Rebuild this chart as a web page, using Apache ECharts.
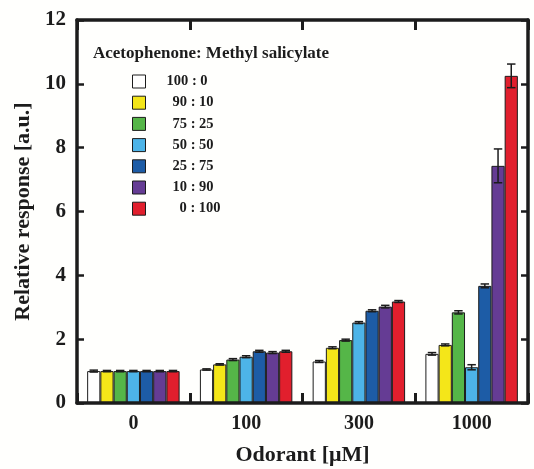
<!DOCTYPE html>
<html>
<head>
<meta charset="utf-8">
<script src="https://cdn.jsdelivr.net/npm/echarts@6/dist/echarts.min.js"></script>
<style>
  html, body { margin: 0; padding: 0; background: #fffffd; }
  #chart { width: 534px; height: 469px; }
</style>
</head>
<body>
<div id="chart"></div>
<script>
// Odorant concentrations (µM)
const categories = ['0', '100', '300', '1000'];

// Acetophenone : Methyl salicylate mixing ratios
const ratios = ['100 : 0', '90 : 10', '75 : 25', '50 : 50', '25 : 75', '10 : 90', '0 : 100'];

// Mean relative responses per ratio, one value per concentration
const r100_0 = [1.00, 1.05, 1.30, 1.54];
const r90_10 = [1.00, 1.21, 1.73, 1.82];
const r75_25 = [1.00, 1.36, 1.97, 2.84];
const r50_50 = [1.00, 1.45, 2.52, 1.12];
const r25_75 = [1.00, 1.62, 2.89, 3.67];
const r10_90 = [1.00, 1.58, 3.02, 7.43];
const r0_100 = [1.00, 1.62, 3.18, 10.25];

// Standard errors
const e100_0 = [0.03, 0.02, 0.03, 0.04];
const e90_10 = [0.02, 0.02, 0.03, 0.03];
const e75_25 = [0.02, 0.03, 0.03, 0.05];
const e50_50 = [0.02, 0.03, 0.03, 0.08];
const e25_75 = [0.02, 0.03, 0.03, 0.06];
const e10_90 = [0.02, 0.03, 0.04, 0.53];
const e0_100 = [0.02, 0.03, 0.03, 0.37];

const yTicks = [0, 2, 4, 6, 8, 10, 12];

const values = [r100_0, r90_10, r75_25, r50_50, r25_75, r10_90, r0_100];
const errors = [e100_0, e90_10, e75_25, e50_50, e25_75, e10_90, e0_100];
const colors = ['#ffffff', '#f4e619', '#55b648', '#4db4e8', '#1d5ca6', '#653c94', '#e11f2d'];

const SERIF = '"Liberation Serif", "DejaVu Serif", serif';
const INK = '#1c1c1c';
const GAP = 0.18;          // category gap fraction
const N = ratios.length;

const chart = echarts.init(document.getElementById('chart'), null, { renderer: 'canvas' });

const barSeries = ratios.map((name, k) => ({
  name: name,
  type: 'bar',
  xAxisIndex: 0,
  yAxisIndex: 0,
  data: values[k],
  barGap: '0%',
  barCategoryGap: (GAP * 100) + '%',
  itemStyle: { color: colors[k], borderColor: INK, borderWidth: 1 },
  z: 2
}));

// Error bars placed on each bar through the category scale
const errData = [];
values.forEach((arr, k) => {
  arr.forEach((v, c) => errData.push([c, v, errors[k][c], k]));
});

const errorSeries = {
  type: 'custom',
  xAxisIndex: 0,
  yAxisIndex: 0,
  data: errData,
  z: 5,
  silent: true,
  renderItem: function (params, api) {
    const c = api.value(0), v = api.value(1), e = api.value(2), k = api.value(3);
    const band = api.size([1, 0])[0];
    const group = band * (1 - GAP);
    const bw = group / N;
    const x = api.coord([c, 0])[0] - group / 2 + bw * (k + 0.5);
    const yHi = api.coord([c, v + e])[1];
    const yLo = api.coord([c, v - e])[1];
    const cap = bw * 0.32;
    const st = { stroke: INK, lineWidth: 1.5 };
    return {
      type: 'group',
      children: [
        { type: 'line', shape: { x1: x, y1: yHi, x2: x, y2: yLo }, style: st },
        { type: 'line', shape: { x1: x - cap, y1: yHi, x2: x + cap, y2: yHi }, style: st },
        { type: 'line', shape: { x1: x - cap, y1: yLo, x2: x + cap, y2: yLo }, style: st }
      ]
    };
  }
};

// Legend labels: shift shorter ratios to the right
const legendPad = { '100 : 0': 0, '0 : 100': 2 };

// Frame lines and inward ticks, built fresh for every axis
function frameLine() {
  return { show: true, onZero: false, lineStyle: { color: INK, width: 3.5 } };
}
function xTick() {
  return { show: true, inside: true, length: 10, lineStyle: { color: INK, width: 3 } };
}
function yTick() {
  return { show: true, inside: true, length: 7, lineStyle: { color: INK, width: 2.5 } };
}

const option = {
  backgroundColor: '#fffffd',
  animation: false,
  textStyle: { fontFamily: SERIF },
  title: {
    text: 'Acetophenone: Methyl salicylate',
    left: 88,
    top: 40,
    textStyle: { fontFamily: SERIF, fontWeight: 'bold', fontSize: 17, color: INK }
  },
  legend: {
    orient: 'vertical',
    left: 127,
    top: 69,
    itemWidth: 13,
    itemHeight: 13,
    itemGap: 6.2,
    icon: 'rect',
    data: ratios,
    itemStyle: { borderColor: INK, borderWidth: 1 },
    formatter: function (name) {
      const p = legendPad[name] === undefined ? 1 : legendPad[name];
      return p === 0 ? '{t|' + name + '}' : '{s' + p + '| }{t|' + name + '}';
    },
    textStyle: {
      fontFamily: SERIF,
      fontWeight: 'bold',
      fontSize: 14.5,
      color: INK,
      padding: [0, 0, 0, 16],
      rich: {
        t: { fontFamily: SERIF, fontWeight: 'bold', fontSize: 14.5, color: INK },
        s1: { width: 6, fontSize: 14.5 },
        s2: { width: 13, fontSize: 14.5 }
      }
    }
  },
  grid: {
    left: 77,
    right: 6,
    top: 20,
    bottom: 66,
    outerBoundsMode: 'none',
    show: false
  },
  xAxis: [
    {
      type: 'category',
      data: categories,
      position: 'bottom',
      z: 10,
      name: 'Odorant [\u03bcM]',
      nameLocation: 'middle',
      nameGap: 41,
      nameTextStyle: { fontFamily: SERIF, fontWeight: 'bold', fontSize: 22, color: INK },
      axisLine: frameLine(),
      axisTick: xTick(),
      axisLabel: { fontFamily: SERIF, fontWeight: 'bold', fontSize: 20, color: INK, margin: 11 },
      splitLine: { show: false }
    },
    {
      type: 'category',
      data: categories,
      position: 'top',
      z: 10,
      axisLine: frameLine(),
      axisTick: xTick(),
      axisLabel: { show: false },
      splitLine: { show: false }
    }
  ],
  yAxis: [
    {
      type: 'value',
      min: yTicks[0],
      max: yTicks[yTicks.length - 1],
      interval: yTicks[1] - yTicks[0],
      position: 'left',
      z: 10,
      name: 'Relative response [a.u.]',
      nameLocation: 'middle',
      nameGap: 42,
      nameTextStyle: { fontFamily: SERIF, fontWeight: 'bold', fontSize: 22, color: INK },
      axisLine: frameLine(),
      axisTick: yTick(),
      axisLabel: { fontFamily: SERIF, fontWeight: 'bold', fontSize: 21, color: INK, margin: 11 },
      splitLine: { show: false }
    },
    {
      type: 'value',
      min: yTicks[0],
      max: yTicks[yTicks.length - 1],
      interval: yTicks[1] - yTicks[0],
      position: 'right',
      z: 10,
      axisLine: frameLine(),
      axisTick: yTick(),
      axisLabel: { show: false },
      splitLine: { show: false }
    }
  ],
  series: barSeries.concat([errorSeries])
};

chart.setOption(option);
</script>
</body>
</html>
